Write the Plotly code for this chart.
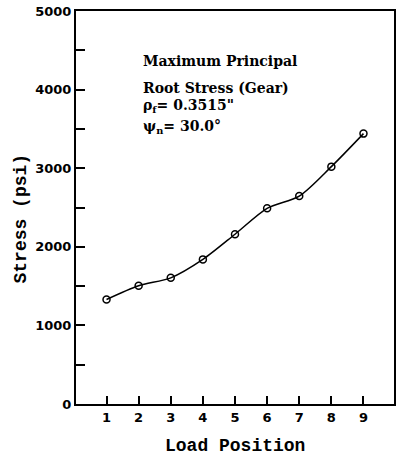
import plotly.graph_objects as go

load_position = [1, 2, 3, 4, 5, 6, 7, 8, 9]
stress_psi = [1330, 1505, 1605, 1840, 2160, 2490, 2645, 3020, 3440]

y_tick_vals = [0, 500, 1000, 1500, 2000, 2500, 3000, 3500, 4000, 4500, 5000]
y_tick_text = ["0", "", "1000", "", "2000", "", "3000", "", "4000", "", "5000"]
x_tick_vals = [1, 2, 3, 4, 5, 6, 7, 8, 9]
x_tick_text = ["1", "2", "3", "4", "5", "6", "7", "8", "9"]

note_lines = [
    "Maximum Principal",
    "Root Stress (Gear)",
    "\u03c1<sub>f</sub>= 0.3515\"",
    "\u03c8<sub>n</sub>= 30.0\u00b0",
]

fig = go.Figure()
fig.add_trace(go.Scatter(
    x=load_position, y=stress_psi, mode="lines+markers",
    line=dict(color="black", width=1.5, shape="spline", smoothing=0.8),
    marker=dict(symbol="circle-open", size=7, color="black", line=dict(width=1.5)),
    showlegend=False,
))

tick_font = dict(family="DejaVu Sans", size=13, color="black", weight="bold")
serif = "DejaVu Serif"
mono = "Liberation Mono"

fig.update_layout(
    width=399, height=455,
    margin=dict(l=76, r=3, t=11, b=51),
    paper_bgcolor="white", plot_bgcolor="white",
    xaxis=dict(range=[0.05, 9.95], tickvals=x_tick_vals, ticktext=x_tick_text,
               ticks="inside", ticklen=8, tickwidth=1.5, tickcolor="black",
               showgrid=False, zeroline=False, showline=True, linewidth=2,
               linecolor="black", mirror=True, tickfont=tick_font),
    yaxis=dict(range=[0, 5000], tickvals=y_tick_vals, ticktext=y_tick_text,
               ticks="inside", ticklen=9, tickwidth=1.5, tickcolor="black",
               showgrid=False, zeroline=False, showline=True, linewidth=2,
               linecolor="black", mirror=True, tickfont=tick_font),
)

annotations = [
    dict(text="Load Position", xref="paper", yref="paper", x=0.5, y=0,
         yshift=-42, showarrow=False, yanchor="middle",
         font=dict(family=mono, size=18, color="black", weight="bold")),
    dict(text="Stress (psi)", xref="paper", yref="paper", x=0, y=0.5,
         xshift=-56, yshift=-11, textangle=-90, showarrow=False, xanchor="center",
         font=dict(family=mono, size=18, color="black", weight="bold")),
]
line_y = [61, 88, 106, 127]
for txt, py in zip(note_lines, line_y):
    annotations.append(dict(
        text=txt, xref="paper", yref="paper", x=(142 - 76) / 321,
        y=(404 - py) / 393, xanchor="left", yanchor="middle", showarrow=False,
        font=dict(family=serif, size=14, color="black", weight="bold")))
fig.update_layout(annotations=annotations)

fig.write_html("out.html")
